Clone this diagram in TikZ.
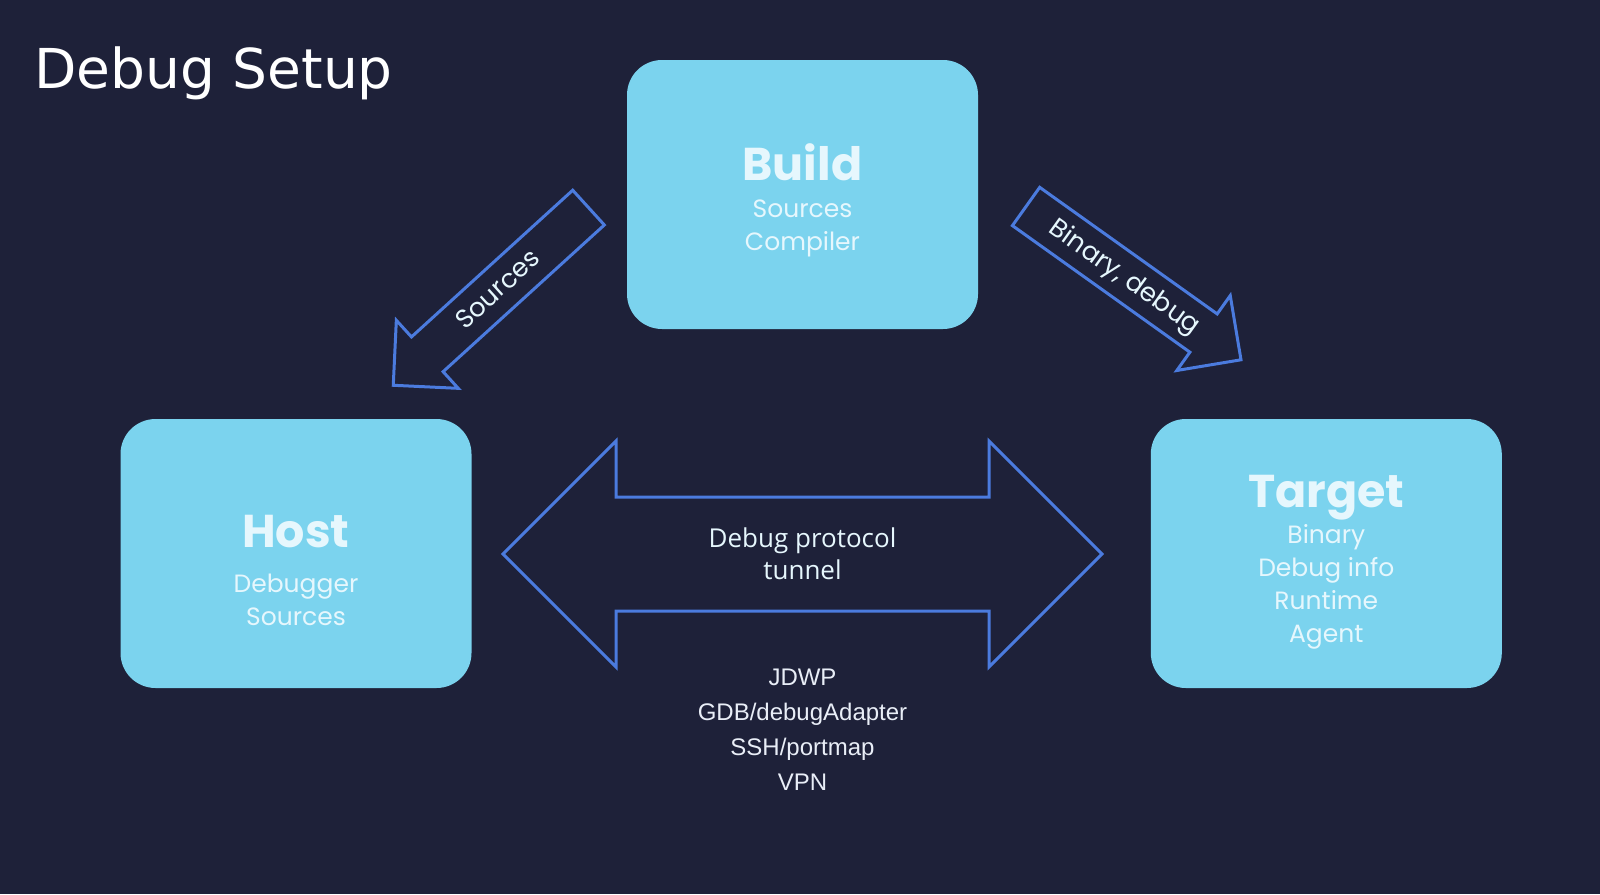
\documentclass[tikz,border=0pt]{standalone}
\usepackage{fontspec}
\setmainfont{Poppins}
\newfontfamily\headfamily{DejaVu Sans}
\newfontfamily\tunnelfamily{Open Sans}
\newfontfamily\listfamily{Liberation Sans}
\usetikzlibrary{shapes.arrows}
\definecolor{slidebg}{HTML}{1E2139}
\definecolor{boxcyan}{HTML}{7BD3EE}
\definecolor{boxtext}{HTML}{E6F7FD}
\definecolor{flowblue}{HTML}{4B7BDE}
\definecolor{lighttext}{HTML}{E9EEF7}
\newcommand{\boxhead}[1]{{\fontsize{23}{23}\selectfont\bfseries #1}}

\begin{document}
\begin{tikzpicture}[
		x=0.5pt, y=0.5pt,
		box/.style={fill=boxcyan, rounded corners=17.5pt, minimum width=175.5pt,
			minimum height=134.5pt, inner sep=0pt},
		boxlabel/.style={anchor=north, inner sep=0pt, align=center, text=boxtext,
			font=\fontsize{12.5}{16.5}\selectfont},
		flowarrow/.style={single arrow, draw=flowblue, line width=1.5pt,
			single arrow head extend=11.25pt, single arrow tip angle=90,
			minimum height=132pt, inner xsep=0pt, inner ysep=11pt, anchor=tip},
		flowlabel/.style={text=boxtext, inner sep=0pt, font=\fontsize{13}{13}\selectfont},
	]

	% slide background
	\fill[slidebg] (0,0) rectangle (1600,-894);
	\useasboundingbox (0,0) rectangle (1600,-894);

	% title
	\node[anchor=base west, inner sep=0pt, text=white,
		font=\headfamily\fontsize{27.5}{27.5}\selectfont] (title) at (34,-88.3) {Debug Setup};

	% boxes
	\node[box] (build) at (802.5,-194.5) {};
	\node[box] (host) at (296,-553.5) {};
	\node[box] (target) at (1326.3,-553.5) {};

	\node[boxlabel] (buildtext) at (802.5,-143) {\boxhead{Build}\\[2.25pt]Sources\\Compiler};
	\node[boxlabel] (hosttext) at (296,-515) {\boxhead{Host}\\[5.75pt]Debugger\\Sources};
	\node[boxlabel] (targettext) at (1326.3,-474.7)
	{\boxhead{Target}\\[1.75pt]Binary\\Debug info\\Runtime\\Agent};

	% build -> host, build -> target
	\node[flowarrow, rotate=222.3] (srcflow) at (391.7,-386.7) {};
	\node[flowarrow, rotate=-35.5] (binflow) at (1242.7,-361) {};
	\node[flowlabel, rotate=42.3] (srclabel) at (497.3,-289) {Sources};
	\node[flowlabel, rotate=-35.5] (binlabel) at (1124,-278) {Binary, debug};

	% host <-> target
	\node[double arrow, draw=flowblue, line width=1.5pt,
		double arrow head extend=28pt, double arrow tip angle=90,
		minimum height=299.5pt, inner xsep=0pt, inner ysep=27.75pt] (tunnel) at (802.5,-554) {};
	\node[anchor=north, inner sep=0pt, align=center, text=boxtext,
		font=\tunnelfamily\fontsize{13}{16}\selectfont] (tunneltext) at (802.5,-527.5)
	{Debug protocol\\tunnel};

	% protocols
	\node[anchor=north, inner sep=0pt, align=center, text=lighttext,
		font=\listfamily\fontsize{12}{17.5}\selectfont] (protocols) at (802.5,-668.5)
	{JDWP\\GDB/debugAdapter\\SSH/portmap\\VPN};

\end{tikzpicture}
\end{document}
